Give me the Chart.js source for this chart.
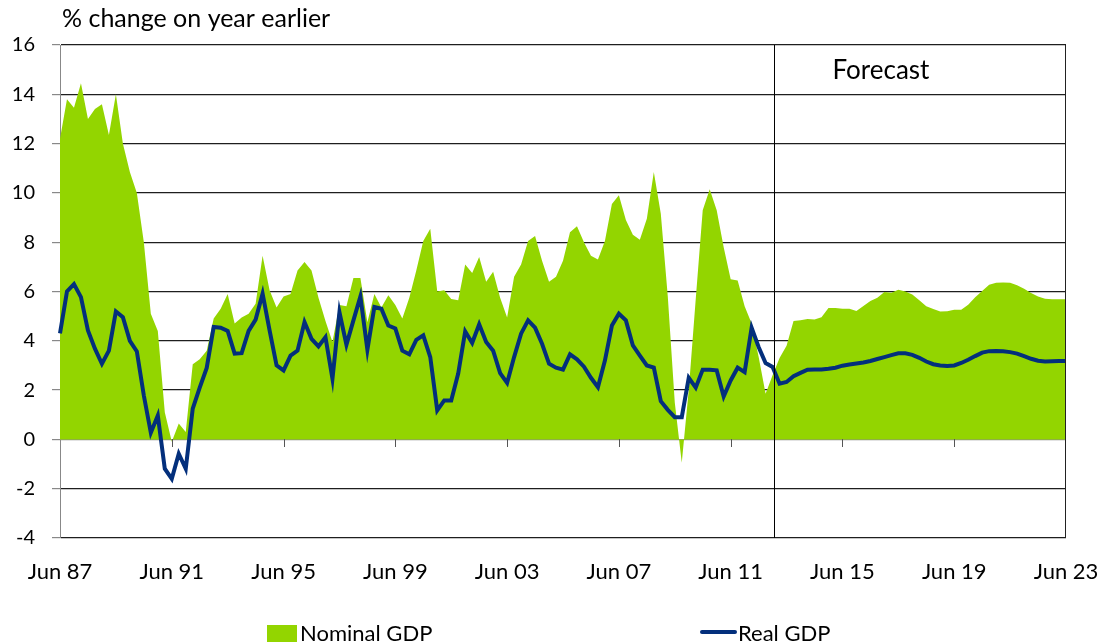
<!DOCTYPE html>
<html>
<head>
<meta charset="utf-8">
<script src="https://cdn.jsdelivr.net/npm/chart.js@4.4.1/dist/chart.umd.min.js"></script>
<style>
  html, body { margin: 0; padding: 0; background: #fff; }
  #wrap { width: 1105px; height: 644px; position: relative; }
</style>
</head>
<body>
<div id="wrap"><canvas id="gdpChart" width="1105" height="644"></canvas></div>
<script>
// Quarterly, Jun 87 .. Jun 23 (145 quarters)
const MONTHS = ['Jun', 'Sep', 'Dec', 'Mar'];
const quarters = [];
for (let i = 0; i < 145; i++) {
    const yr = (1987 + Math.floor((i + 1) / 4)) % 100;
    quarters.push(MONTHS[i % 4] + ' ' + String(yr).padStart(2, '0'));
}
const TICK_EVERY = 16;          // a label every 4 years
const FORECAST_FROM = 102.2;    // quarter index where the forecast begins

const yTicks = { min: -4, max: 16, step: 2 };

// % change on year earlier
const nominalGDP = [
    12.2, 13.8, 13.45, 14.45, 13.0, 13.4, 13.6, 12.35, 14.0, 12.0,
    10.85, 10.0, 8.0, 5.1, 4.4, 1.1, -0.1, 0.65, 0.3, 3.05,
    3.25, 3.6, 4.9, 5.3, 5.9, 4.7, 4.95, 5.1, 5.5, 7.45,
    6.05, 5.35, 5.8, 5.9, 6.85, 7.2, 6.85, 5.75, 4.8, 3.95,
    5.45, 5.4, 6.55, 6.55, 4.75, 5.9, 5.35, 5.85, 5.45, 4.9,
    5.75, 6.85, 8.05, 8.55, 6.0, 6.05, 5.7, 5.65, 7.1, 6.75,
    7.4, 6.4, 6.8, 5.75, 4.95, 6.6, 7.1, 8.05, 8.25, 7.25,
    6.4, 6.6, 7.25, 8.4, 8.65, 8.0, 7.45, 7.3, 8.05, 9.55,
    9.9, 8.9, 8.3, 8.1, 8.95, 10.85, 9.15, 5.8, 1.5, -0.95,
    2.0, 5.7, 9.3, 10.15, 9.3, 7.8, 6.5, 6.45, 5.4, 4.7,
    3.35, 1.85, 2.6, 3.3, 3.8, 4.8, 4.83, 4.88, 4.86, 4.96,
    5.33, 5.33, 5.3, 5.3, 5.21, 5.41, 5.61, 5.75, 5.98, 5.95,
    6.07, 6.0, 5.88, 5.64, 5.4, 5.29, 5.19, 5.2, 5.26, 5.26,
    5.46, 5.77, 6.02, 6.27, 6.35, 6.37, 6.35, 6.25, 6.11, 5.94,
    5.8, 5.71, 5.69, 5.69, 5.69
];

const realGDP = [
    4.3, 6.0, 6.3, 5.77, 4.42, 3.68, 3.07, 3.6, 5.19, 4.96,
    4.0, 3.57, 1.78, 0.27, 0.97, -1.19, -1.6, -0.58, -1.19, 1.25,
    2.1, 2.9, 4.56, 4.53, 4.4, 3.48, 3.5, 4.4, 4.86, 5.91,
    4.42, 3.0, 2.8, 3.4, 3.6, 4.76, 4.08, 3.77, 4.15, 2.46,
    5.16, 3.84, 4.83, 5.8, 3.64, 5.37, 5.3, 4.62, 4.5, 3.6,
    3.45, 4.04, 4.22, 3.34, 1.18, 1.58, 1.58, 2.67, 4.38, 3.91,
    4.67, 3.95, 3.6, 2.69, 2.29, 3.34, 4.29, 4.83, 4.53, 3.88,
    3.07, 2.91, 2.83, 3.45, 3.25, 2.95, 2.5, 2.12, 3.2, 4.62,
    5.1, 4.83, 3.81, 3.4, 3.0, 2.91, 1.55, 1.2, 0.9, 0.9,
    2.5, 2.1, 2.83, 2.83, 2.8, 1.74, 2.39, 2.91, 2.73, 4.53,
    3.75, 3.1, 2.94, 2.26, 2.33, 2.56, 2.7, 2.83, 2.84, 2.84,
    2.87, 2.91, 2.99, 3.04, 3.08, 3.12, 3.18, 3.26, 3.34, 3.42,
    3.49, 3.49, 3.43, 3.31, 3.16, 3.05, 3.0, 2.98, 3.0, 3.1,
    3.23, 3.38, 3.52, 3.58, 3.59, 3.58, 3.54, 3.48, 3.38, 3.27,
    3.19, 3.16, 3.17, 3.18, 3.18
];

const GREEN = '#93d500';
const NAVY = '#032f7c';
const FONT = 'Lato, "Open Sans", sans-serif';

// extra drawing: frame, ticks on the zero line, forecast divider, title and legend
const decorations = {
    id: 'decorations',
    afterDatasetsDraw(chart) {
        const { ctx, chartArea: a, scales: { x, y } } = chart;
        ctx.save();

        // right frame
        ctx.strokeStyle = '#222';
        ctx.lineWidth = 1;
        ctx.beginPath();
        ctx.moveTo(a.right - 0.5, a.top);
        ctx.lineTo(a.right - 0.5, a.bottom);
        ctx.stroke();

        // tick marks hanging from the zero line
        const y0 = Math.round(y.getPixelForValue(0));
        ctx.strokeStyle = '#555';
        for (let i = TICK_EVERY; i < quarters.length - 1; i += TICK_EVERY) {
            const px = Math.round(x.getPixelForValue(i)) + 0.5;
            ctx.beginPath();
            ctx.moveTo(px, y0);
            ctx.lineTo(px, y0 + 8);
            ctx.stroke();
        }

        // forecast divider
        const fx = Math.round(x.getPixelForValue(FORECAST_FROM)) + 0.5;
        ctx.strokeStyle = '#000';
        ctx.beginPath();
        ctx.moveTo(fx, a.top);
        ctx.lineTo(fx, a.bottom);
        ctx.stroke();

        ctx.fillStyle = '#000';
        ctx.textAlign = 'left';
        ctx.textBaseline = 'middle';
        ctx.font = '26px ' + FONT;
        ctx.fillText('Forecast', fx + 58, a.top + 26);

        // axis title
        ctx.font = '25px ' + FONT;
        ctx.fillText('% change on year earlier', 62, 19);

        // legend
        ctx.font = '22px ' + FONT;
        ctx.fillStyle = GREEN;
        ctx.fillRect(267, 625, 30, 17);
        ctx.fillStyle = '#000';
        ctx.fillText('Nominal GDP', 300, 634);

        ctx.strokeStyle = NAVY;
        ctx.lineWidth = 4;
        ctx.lineCap = 'round';
        ctx.beginPath();
        ctx.moveTo(702, 632);
        ctx.lineTo(735, 632);
        ctx.stroke();
        ctx.fillText('Real GDP', 738, 634);

        ctx.restore();
    }
};

new Chart(document.getElementById('gdpChart'), {
    type: 'line',
    data: {
        labels: quarters,
        datasets: [{
            label: 'Real GDP',
            data: realGDP,
            borderColor: NAVY,
            borderWidth: 4,
            pointRadius: 0,
            fill: false,
            tension: 0,
            order: 0
        }, {
            label: 'Nominal GDP',
            data: nominalGDP,
            borderWidth: 0,
            borderColor: GREEN,
            backgroundColor: GREEN,
            pointRadius: 0,
            fill: 'origin',
            tension: 0,
            order: 1
        }]
    },
    options: {
        responsive: false,
        animation: false,
        devicePixelRatio: 1,
        layout: { padding: { top: 45, right: 39, left: 0, bottom: 0 } },
        plugins: {
            legend: { display: false },
            tooltip: { enabled: false },
            title: { display: false }
        },
        scales: {
            x: {
                type: 'category',
                offset: false,
                afterFit: s => { s.height = 106; s.paddingLeft = 0; s.paddingRight = 0; },
                grid: { display: false, drawOnChartArea: false, drawTicks: false },
                border: { display: false },
                ticks: {
                    autoSkip: false,
                    maxRotation: 0,
                    padding: 21,
                    color: '#000',
                    font: { family: FONT, size: 22 },
                    callback: (v, i) => i % TICK_EVERY === 0 ? quarters[i] : ''
                }
            },
            y: {
                min: yTicks.min,
                max: yTicks.max,
                afterFit: s => { s.width = 60; s.paddingTop = 0; s.paddingBottom = 0; },
                border: { display: true, color: '#888', width: 1 },
                grid: {
                    color: c => c.tick && c.tick.value === 0 ? '#8a8a8a' : '#1e1e1e',
                    lineWidth: 1.2,
                    tickColor: '#888',
                    tickLength: 8
                },
                ticks: {
                    stepSize: yTicks.step,
                    padding: 17,
                    color: '#000',
                    font: { family: FONT, size: 20 }
                }
            }
        }
    },
    plugins: [decorations]
});
</script>
</body>
</html>
